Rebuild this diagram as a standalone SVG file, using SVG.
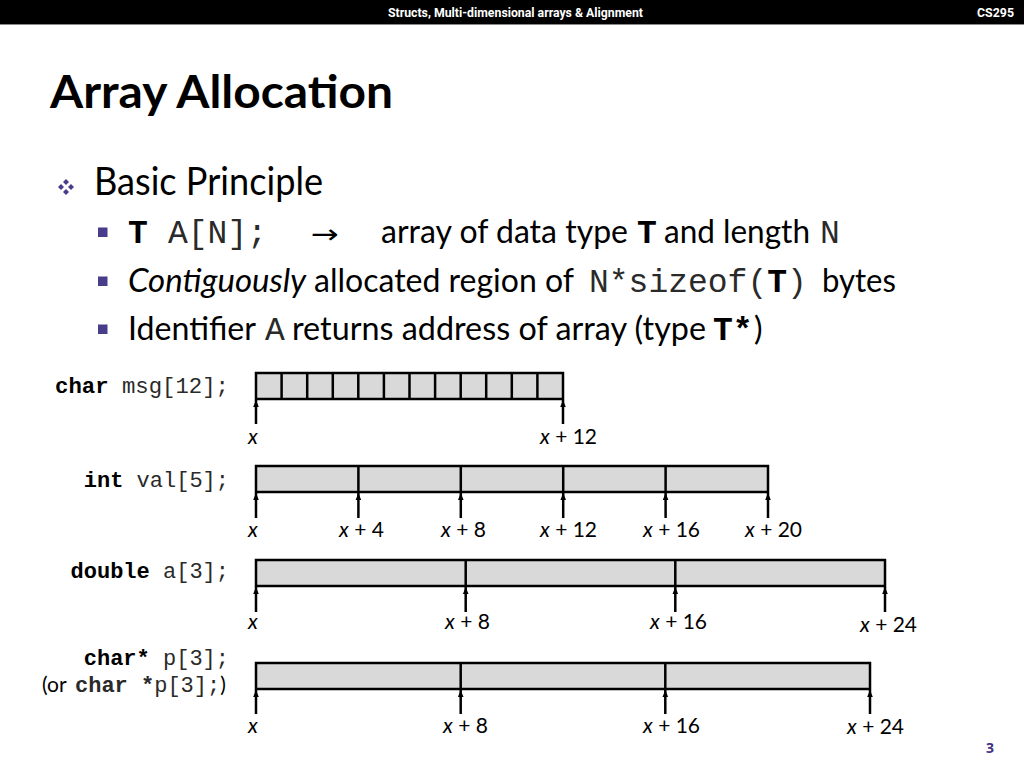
<svg xmlns="http://www.w3.org/2000/svg" width="1024" height="768" viewBox="0 0 1024 768">
<style>
.sans{font-family:"Lato","Open Sans","Liberation Sans",sans-serif;fill:#000}
.mono{font-family:"Courier New",Courier,"Nimbus Mono PS",FreeMono,"Liberation Mono",monospace;fill:#000}
.lt{fill:#2a2a2a}
.b{font-weight:bold}
.i{font-style:italic}
.box{fill:#d9d9d9;stroke:#000;stroke-width:2.5}
.dv{stroke:#000;stroke-width:2.5;fill:none}
.ptr{stroke:#000;stroke-width:2.5;fill:none;marker-end:url(#ah)}
.addr{font-family:"Lato","Open Sans","Liberation Sans",sans-serif;font-size:21px;fill:#000}
.decl{font-family:"Courier New",Courier,"Nimbus Mono PS",FreeMono,"Liberation Mono",monospace;font-size:22px;fill:#2a2a2a}
.bul{fill:#483d8b}
</style>
<defs>
<marker id="ah" viewBox="0 0 10 10" refX="10" refY="5" markerWidth="7" markerHeight="7" markerUnits="userSpaceOnUse" orient="auto">
<path d="M0,1 L10,5 L0,9 z" fill="#000"/>
</marker>
<path id="dia" d="M0,-3 L3,0 L0,3 L-3,0 z"/>
</defs>
<rect x="0" y="0" width="1024" height="768" fill="#fff"/>
<g id="header">
<rect x="0" y="0" width="1024" height="24" fill="#000"/>
<line x1="0" y1="24.5" x2="1024" y2="24.5" stroke="#8a8a8a" stroke-width="1"/>
<text x="388" y="17" font-family="Roboto,'Liberation Sans',sans-serif" font-weight="bold" font-size="13" fill="#fff" textLength="255" lengthAdjust="spacingAndGlyphs">Structs, Multi-dimensional arrays &amp; Alignment</text>
<text x="977" y="17" font-family="Roboto,'Liberation Sans',sans-serif" font-weight="bold" font-size="13" fill="#fff" textLength="37" lengthAdjust="spacingAndGlyphs">CS295</text>
</g>
<g id="title">
<text class="sans b" x="50" y="108" font-size="46" textLength="343" lengthAdjust="spacingAndGlyphs">Array Allocation</text>
</g>
<g id="bullets">
<g class="bul" transform="translate(66,187)">
<use href="#dia" x="0" y="-5"/><use href="#dia" x="-5" y="0"/><use href="#dia" x="5" y="0"/><use href="#dia" x="0" y="5"/>
</g>
<text class="sans" x="94" y="195" font-size="38" textLength="229" lengthAdjust="spacingAndGlyphs">Basic Principle</text>
<rect class="bul" x="98" y="227.5" width="9.5" height="9.5"/>
<rect class="bul" x="98" y="276.5" width="9.5" height="9.5"/>
<rect class="bul" x="98" y="324.5" width="9.5" height="9.5"/>
<text class="mono b" x="128" y="243" font-size="33">T</text>
<text class="mono lt" x="168" y="243" font-size="33">A[N];</text>
<text x="311" y="243" font-family="'DejaVu Sans',sans-serif" font-size="26" textLength="28" lengthAdjust="spacingAndGlyphs">→</text>
<text class="sans" x="381" y="243" font-size="32" textLength="247" lengthAdjust="spacingAndGlyphs">array of data type</text>
<text class="mono b" x="637" y="243" font-size="33">T</text>
<text class="sans" x="664" y="243" font-size="32" textLength="146" lengthAdjust="spacingAndGlyphs">and length</text>
<text class="mono lt" x="820" y="243" font-size="33">N</text>
<text class="sans i" x="128" y="292" font-size="32" textLength="178" lengthAdjust="spacingAndGlyphs">Contiguously</text>
<text class="sans" x="314" y="292" font-size="32" textLength="260" lengthAdjust="spacingAndGlyphs">allocated region of</text>
<text class="mono lt" x="589" y="292" font-size="33">N*sizeof(</text>
<text class="mono b" x="767.2" y="292" font-size="33">T</text>
<text class="mono lt" x="787" y="292" font-size="33">)</text>
<text class="sans" x="822" y="292" font-size="32" textLength="74" lengthAdjust="spacingAndGlyphs">bytes</text>
<text class="sans" x="128" y="340" font-size="32" textLength="128" lengthAdjust="spacingAndGlyphs">Identifier</text>
<text class="mono lt" x="265" y="340" font-size="33">A</text>
<text class="sans" x="292" y="340" font-size="32" textLength="414" lengthAdjust="spacingAndGlyphs">returns address of array (type</text>
<text class="mono b" x="713" y="340" font-size="33">T*</text>
<text class="sans" x="754" y="340" font-size="32">)</text>
</g>
<g id="decl-msg">
<text class="decl" x="229" y="393" text-anchor="end" textLength="174" lengthAdjust="spacingAndGlyphs"><tspan class="b" fill="#000">char</tspan> msg[12];</text>
</g>
<g id="decl-val">
<text class="decl" x="229" y="487" text-anchor="end"><tspan class="b" fill="#000">int</tspan> val[5];</text>
</g>
<g id="decl-a">
<text class="decl" x="229" y="578" text-anchor="end"><tspan class="b" fill="#000">double</tspan> a[3];</text>
</g>
<g id="decl-p">
<text class="decl" x="229" y="665" text-anchor="end"><tspan class="b" fill="#000">char*</tspan> p[3];</text>
<text x="42" y="692"><tspan class="sans" font-size="21">(or </tspan><tspan class="decl b" fill="#000" x="75">char</tspan><tspan class="decl"> </tspan><tspan class="decl b" fill="#000">*</tspan><tspan class="decl">p[3];</tspan><tspan class="sans" font-size="21">)</tspan></text>
</g>
<g id="array-msg">
<rect class="box" x="256" y="373" width="307" height="26"/>
<path class="dv" d="M281.6,373V399M307.2,373V399M332.8,373V399M358.3,373V399M383.9,373V399M409.5,373V399M435.1,373V399M460.7,373V399M486.2,373V399M511.8,373V399M537.4,373V399"/>
</g>
<g id="array-val">
<rect class="box" x="256" y="466" width="512" height="26"/>
<path class="dv" d="M358.4,466V492M460.8,466V492M563.2,466V492M665.6,466V492"/>
</g>
<g id="array-a">
<rect class="box" x="256" y="560" width="629" height="26"/>
<path class="dv" d="M465.7,560V586M675.3,560V586"/>
</g>
<g id="array-p">
<rect class="box" x="256" y="663" width="614" height="26"/>
<path class="dv" d="M460.7,663V689M665.3,663V689"/>
</g>
<g id="connectors">
<line class="ptr" x1="256" y1="424" x2="256" y2="400"/>
<line class="ptr" x1="563" y1="424" x2="563" y2="400"/>
<line class="ptr" x1="256" y1="518" x2="256" y2="493"/>
<line class="ptr" x1="358.4" y1="518" x2="358.4" y2="493"/>
<line class="ptr" x1="460.8" y1="518" x2="460.8" y2="493"/>
<line class="ptr" x1="563.2" y1="518" x2="563.2" y2="493"/>
<line class="ptr" x1="665.6" y1="518" x2="665.6" y2="493"/>
<line class="ptr" x1="768" y1="518" x2="768" y2="493"/>
<line class="ptr" x1="256" y1="612" x2="256" y2="587"/>
<line class="ptr" x1="465.7" y1="612" x2="465.7" y2="587"/>
<line class="ptr" x1="675.3" y1="612" x2="675.3" y2="587"/>
<line class="ptr" x1="885" y1="612" x2="885" y2="587"/>
<line class="ptr" x1="256" y1="714" x2="256" y2="690"/>
<line class="ptr" x1="460.7" y1="714" x2="460.7" y2="690"/>
<line class="ptr" x1="665.3" y1="714" x2="665.3" y2="690"/>
<line class="ptr" x1="870" y1="714" x2="870" y2="690"/>
</g>
<g id="addr-labels">
<text class="addr i" x="248" y="444">x</text>
<text class="addr" x="540" y="444"><tspan class="i">x</tspan> + 12</text>
<text class="addr i" x="248" y="537">x</text>
<text class="addr" x="339" y="537"><tspan class="i">x</tspan> + 4</text>
<text class="addr" x="441" y="537"><tspan class="i">x</tspan> + 8</text>
<text class="addr" x="540" y="537"><tspan class="i">x</tspan> + 12</text>
<text class="addr" x="643" y="537"><tspan class="i">x</tspan> + 16</text>
<text class="addr" x="745" y="537"><tspan class="i">x</tspan> + 20</text>
<text class="addr i" x="248" y="629">x</text>
<text class="addr" x="445" y="629"><tspan class="i">x</tspan> + 8</text>
<text class="addr" x="650" y="629"><tspan class="i">x</tspan> + 16</text>
<text class="addr" x="860" y="632" font-size="23"><tspan class="i">x</tspan> + 24</text>
<text class="addr i" x="248" y="733">x</text>
<text class="addr" x="443" y="733"><tspan class="i">x</tspan> + 8</text>
<text class="addr" x="643" y="733"><tspan class="i">x</tspan> + 16</text>
<text class="addr" x="847" y="734"><tspan class="i">x</tspan> + 24</text>
</g>
<g id="footer">
<text x="986" y="753" font-family="'Open Sans','Liberation Sans',sans-serif" font-weight="bold" font-size="14" fill="#3f3480">3</text>
</g>
</svg>
